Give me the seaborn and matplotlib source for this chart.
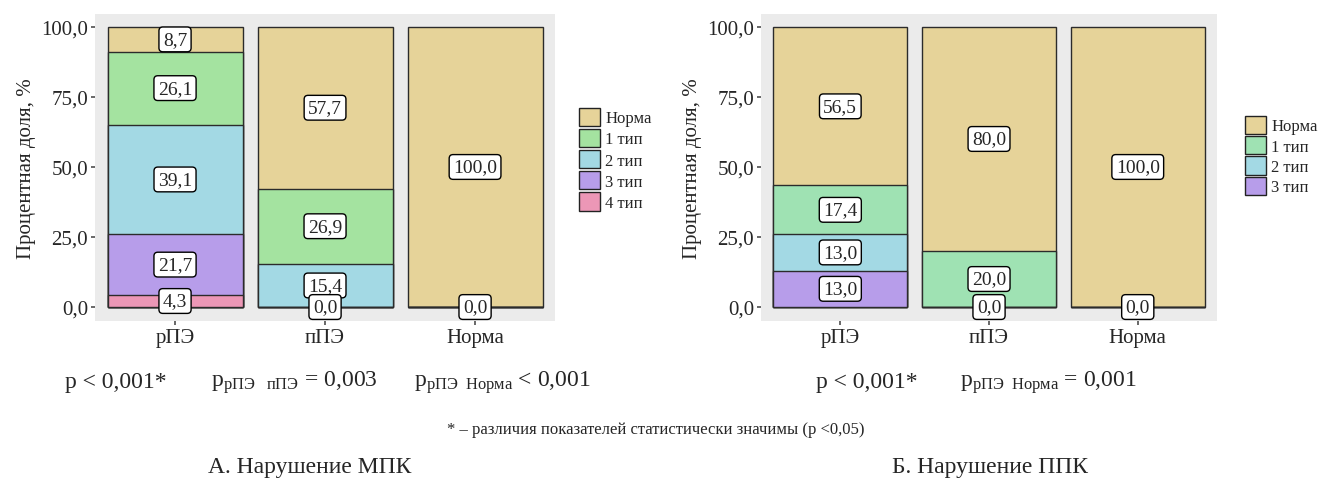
import numpy as np
import pandas as pd
import matplotlib
matplotlib.use("Agg")
import matplotlib.pyplot as plt
from matplotlib.patches import Patch
import seaborn as sns

sns.set_theme(style="white")
plt.rcParams['font.family'] = ['Liberation Serif', 'DejaVu Serif']
plt.rcParams['mathtext.fontset'] = 'custom'
plt.rcParams['mathtext.rm'] = 'Liberation Serif'
plt.rcParams['mathtext.it'] = 'Liberation Serif:italic'

# ---- data (top of stack first) ----
groups = ['рПЭ', 'пПЭ', 'Норма']
cats_a = ['Норма', '1 тип', '2 тип', '3 тип', '4 тип']
cats_b = ['Норма', '1 тип', '2 тип', '3 тип']

# NaN = segment absent (no label), 0.0 = labelled zero
vals_a = {
    'Норма': [8.7, 57.7, 100.0],
    '1 тип': [26.1, 26.9, np.nan],
    '2 тип': [39.1, 15.4, np.nan],
    '3 тип': [21.7, 0.0, np.nan],
    '4 тип': [4.3, np.nan, 0.0],
}
vals_b = {
    'Норма': [56.5, 80.0, 100.0],
    '1 тип': [17.4, 20.0, np.nan],
    '2 тип': [13.0, 0.0, np.nan],
    '3 тип': [13.0, np.nan, 0.0],
}

colors = {'Норма': '#E6D399', '1 тип': '#A4E3A0', '2 тип': '#A3D9E4',
          '3 тип': '#B79DEA', '4 тип': '#EC97B6'}
colors_b = {'Норма': '#E6D399', '1 тип': '#9FE2B3', '2 тип': '#A3D9E4',
            '3 тип': '#B79DEA'}

fig = plt.figure(figsize=(13.24, 4.85), dpi=100)
ax_a = fig.add_axes([0.0718, 0.336, 0.3474, 0.633])
ax_b = fig.add_axes([0.5748, 0.336, 0.3444, 0.633])


def fmt(v):
    return f"{v:.1f}".replace('.', ',')


def draw_panel(ax, cats, vals, cols):
    df = pd.DataFrame(vals, index=groups)[cats].fillna(0)
    # cumulative from the bottom of the stack
    cum = df[cats[::-1]].cumsum(axis=1)[cats]
    for c in cats:
        d = pd.DataFrame({'group': groups, 'h': cum[c].values})
        sns.barplot(data=d, x='group', y='h', order=groups, color=cols[c],
                    saturation=1, width=0.9, edgecolor='#2b2b2b',
                    linewidth=1.0, errorbar=None, ax=ax)
    # labels
    for i, g in enumerate(groups):
        for c in cats:
            v = vals[c][i]
            if np.isnan(v):
                continue
            top = cum.loc[g, c]
            y = top - v / 2
            ax.text(i, y, fmt(v), ha='center', va='center', fontsize=14,
                    bbox=dict(boxstyle='round,pad=0.2', fc='white',
                              ec='black', lw=1.0))
    ax.set_facecolor('#EBEBEB')
    for s in ax.spines.values():
        s.set_visible(False)
    ax.set_xlim(-0.533, 2.533)
    ax.set_ylim(-5, 104.6)
    ax.set_yticks([0, 25, 50, 75, 100])
    ax.set_yticklabels([fmt(t) for t in [0, 25, 50, 75, 100]])
    ax.tick_params(axis='both', length=3, color='#555555', labelsize=15,
                   left=True, bottom=True, pad=2)
    ax.set_xlabel('')
    ax.set_ylabel('Процентная доля, %', fontsize=15, labelpad=4)


draw_panel(ax_a, cats_a, vals_a, colors)
draw_panel(ax_b, cats_b, vals_b, colors_b)

h_a = [Patch(fc=colors[c], ec='#222222', lw=1.0, label=c) for c in cats_a]
h_b = [Patch(fc=colors_b[c], ec='#222222', lw=1.0, label=c) for c in cats_b]
fig.legend(handles=h_a, loc='upper left', bbox_to_anchor=(0.432, 1 - 102 / 485),
           frameon=False, fontsize=12, handlelength=1.3, handleheight=1.3,
           labelspacing=0.15, handletextpad=0.3, borderaxespad=0)
fig.legend(handles=h_b, loc='upper left', bbox_to_anchor=(0.935, 1 - 110 / 485),
           frameon=False, fontsize=12, handlelength=1.3, handleheight=1.3,
           labelspacing=0.1, handletextpad=0.3, borderaxespad=0)

# p-values
fig.text(0.049, 1 - 383 / 485, 'p < 0,001*', fontsize=17, va='center')
fig.text(0.159, 1 - 383 / 485, r'p$_{\mathregular{рПЭ\quad пПЭ}}$ = 0,003',
         fontsize=17, va='center')
fig.text(0.313, 1 - 383 / 485, r'p$_{\mathregular{рПЭ\ \ Норма}}$ < 0,001',
         fontsize=17, va='center')
fig.text(0.616, 1 - 383 / 485, 'p < 0,001*', fontsize=17, va='center')
fig.text(0.725, 1 - 383 / 485, r'p$_{\mathregular{рПЭ\ \ Норма}}$ = 0,001',
         fontsize=17, va='center')

fig.text(0.495, 1 - 430 / 485,
         '* – различия показателей статистически значимы (р <0,05)',
         fontsize=12, ha='center', va='center')
fig.text(0.234, 1 - 468 / 485, 'А. Нарушение МПК', fontsize=17,
         ha='center', va='center')
fig.text(0.748, 1 - 468 / 485, 'Б. Нарушение ППК', fontsize=17,
         ha='center', va='center')

fig.savefig('out.png', dpi=100, facecolor='white')
